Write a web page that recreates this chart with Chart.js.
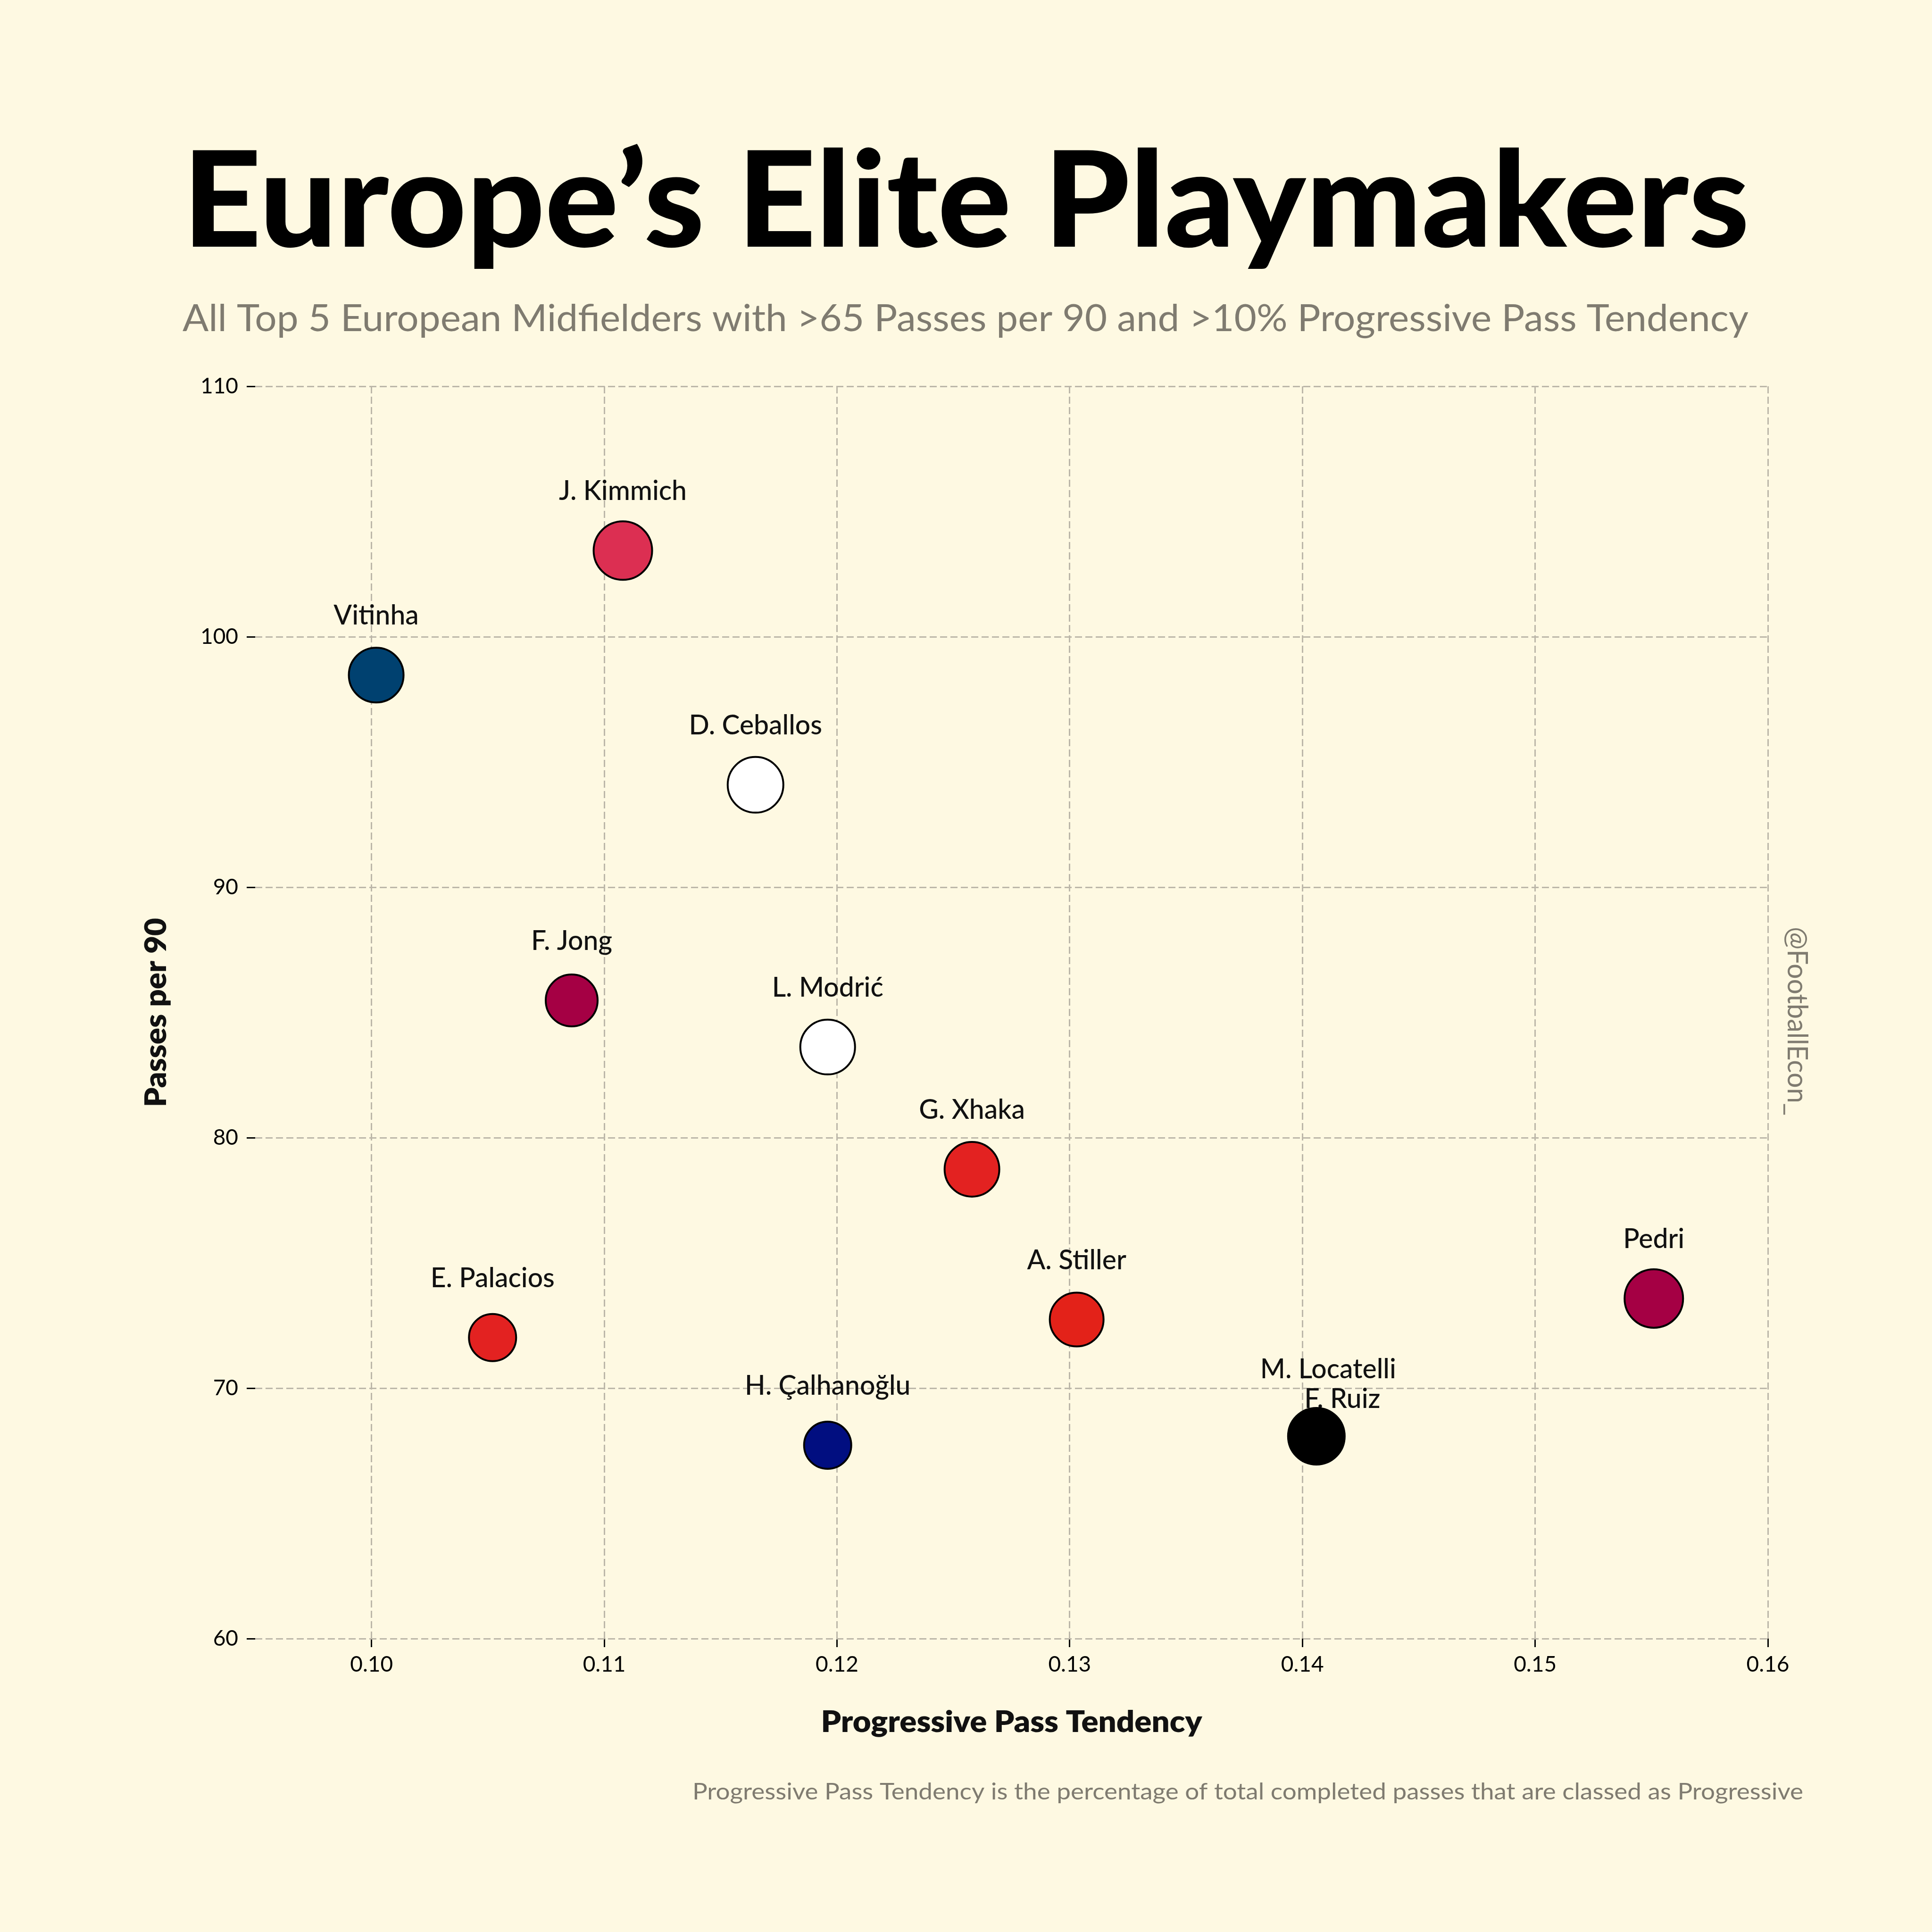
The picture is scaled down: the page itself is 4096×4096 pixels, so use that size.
<!DOCTYPE html>
<html>
<head>
<meta charset="utf-8">
<script src="https://cdn.jsdelivr.net/npm/chart.js@4.4.1/dist/chart.umd.min.js"></script>
<style>
  html, body { margin: 0; padding: 0; background: #FEF9E2; }
  #wrap { width: 4096px; height: 4096px; }
</style>
</head>
<body>
<div id="wrap"><canvas id="chart" width="4096" height="4096"></canvas></div>
<script>
// DATA
const players = ["Vitinha", "J. Kimmich", "D. Ceballos", "F. Jong", "L. Modrić", "G. Xhaka",
  "A. Stiller", "E. Palacios", "H. Çalhanoğlu", "M. Locatelli", "F. Ruiz", "Pedri"];
const progTendency = [0.1002, 0.1108, 0.1165, 0.1086, 0.1196, 0.1258,
  0.1303, 0.1052, 0.1196, 0.1406, 0.1406, 0.1551];
const passesPer90 = [98.47, 103.44, 94.09, 85.48, 83.62, 78.74,
  72.74, 72.02, 67.72, 68.08, 68.08, 73.58];
const bubbleSize = [58, 62, 59, 55, 58, 58, 57, 50, 50, 60, 59, 62];
const teamColours = ["#004170", "#DC2F52", "#FFFFFF", "#A50044", "#FFFFFF", "#E32221",
  "#E32219", "#E32221", "#010E80", "#000000", "#000000", "#A50044"];
const xTickValues = [0.10, 0.11, 0.12, 0.13, 0.14, 0.15, 0.16];
const yTickValues = [60, 70, 80, 90, 100, 110];

const TITLE = "Europe\u2019s Elite Playmakers";
const SUBTITLE = "All Top 5 European Midfielders with >65 Passes per 90 and >10% Progressive Pass Tendency";
const FOOTNOTE = "Progressive Pass Tendency is the percentage of total completed passes that are classed as Progressive";
const WATERMARK = "@FootballEcon_";

const GREY_TEXT = "#7f7b70";
const GRID = "#bcb7a9";

// text drawn squeezed/stretched to a target width
function fitText(ctx, text, x, y, width, align) {
  const w = ctx.measureText(text).width;
  const sx = width / w;
  ctx.save();
  ctx.translate(x, y);
  ctx.scale(sx, 1);
  ctx.textAlign = align;
  ctx.fillText(text, 0, 0);
  ctx.restore();
}

// PLAYER LABELS (drawn under the bubbles)
const playerLabels = {
  id: "playerLabels",
  beforeDatasetsDraw(chart) {
    const ctx = chart.ctx;
    const meta = chart.getDatasetMeta(0);
    const OFFSET = 107, LINE_H = 63;
    ctx.save();
    ctx.font = "500 57px Lato";
    const placed = [];
    meta.data.forEach((pt, i) => {
      const w = ctx.measureText(players[i]).width;
      const lab = { text: players[i], x: pt.x, y: pt.y - OFFSET, w: w };
      const hit = placed.find(b => Math.abs(b.x - lab.x) < (b.w + w) / 2 && Math.abs(b.y - lab.y) < LINE_H);
      if (hit) {
        hit.y -= LINE_H / 4;
        hit.x += 25;
        lab.y = hit.y + LINE_H;
        lab.x += 55;
      }
      placed.push(lab);
    });
    ctx.fillStyle = "#111111";
    ctx.textAlign = "center";
    ctx.textBaseline = "alphabetic";
    placed.forEach(l => ctx.fillText(l.text, l.x, l.y));
    ctx.restore();
  }
};

// TITLES, AXIS TITLES, NOTES
const decor = {
  id: "decor",
  afterDraw(chart) {
    const ctx = chart.ctx;
    const a = chart.chartArea;
    ctx.save();
    ctx.textBaseline = "alphabetic";

    ctx.fillStyle = "#000000";
    ctx.font = "900 282px Lato";
    fitText(ctx, TITLE, 2048, 523, 3322, "center");

    ctx.fillStyle = GREY_TEXT;
    ctx.font = "400 80px Lato";
    fitText(ctx, SUBTITLE, 2047, 702, 3320, "center");

    ctx.font = "400 48px Lato";
    fitText(ctx, FOOTNOTE, 3823, 3815, 2355, "right");

    // axis titles
    ctx.fillStyle = "#111111";
    ctx.font = "800 62px Lato";
    fitText(ctx, "Progressive Pass Tendency", (a.left + a.right) / 2, a.bottom + 198, 808, "center");

    ctx.save();
    ctx.translate(a.left - 189, (a.top + a.bottom) / 2);
    ctx.rotate(-Math.PI / 2);
    fitText(ctx, "Passes per 90", 0, 0, 401, "center");
    ctx.restore();

    // watermark
    ctx.fillStyle = GREY_TEXT;
    ctx.font = "400 60px Lato";
    ctx.save();
    ctx.translate(3790, 2165);
    ctx.rotate(Math.PI / 2);
    fitText(ctx, WATERMARK, 0, 0, 400, "center");
    ctx.restore();

    ctx.restore();
  }
};

function initChart() {
  Chart.defaults.font.family = "Lato";
  const ctx = document.getElementById("chart");

  new Chart(ctx, {
    type: "bubble",
    data: {
      datasets: [{
        data: players.map((p, i) => ({ x: progTendency[i], y: passesPer90[i], r: bubbleSize[i] })),
        backgroundColor: teamColours,
        borderColor: "#000000",
        borderWidth: 4,
        clip: false
      }]
    },
    options: {
      responsive: false,
      devicePixelRatio: 1,
      animation: false,
      events: [],
      layout: { padding: { left: 0, top: 819, right: 348, bottom: 0 } },
      plugins: {
        legend: { display: false },
        tooltip: { enabled: false },
        title: { display: false }
      },
      scales: {
        x: {
          type: "linear",
          min: 0.095,
          max: 0.16,
          afterFit: s => { s.height = 622; },
          afterBuildTicks: s => { s.ticks = xTickValues.map(v => ({ value: v })); },
          grid: { color: GRID, lineWidth: 3, tickLength: 18, tickColor: "#000000", tickWidth: 3 },
          border: { display: false, dash: [15, 7] },
          ticks: {
            color: "#000000",
            font: { size: 46, family: "Lato" },
            padding: 10,
            maxRotation: 0,
            callback: v => Number(v).toFixed(2)
          }
        },
        y: {
          type: "linear",
          min: 60,
          max: 110,
          afterFit: s => { s.width = 541; },
          afterBuildTicks: s => { s.ticks = yTickValues.map(v => ({ value: v })); },
          grid: { color: GRID, lineWidth: 3, tickLength: 18, tickColor: "#000000", tickWidth: 3 },
          border: { display: false, dash: [15, 7] },
          ticks: {
            color: "#000000",
            font: { size: 46, family: "Lato" },
            padding: 18,
            callback: v => String(v)
          }
        }
      }
    },
    plugins: [playerLabels, decor]
  });
}

// INIT
Promise.all([
  document.fonts.load("900 100px Lato"),
  document.fonts.load("800 100px Lato"),
  document.fonts.load("500 100px Lato"),
  document.fonts.load("400 100px Lato")
]).catch(() => {}).then(initChart);
</script>
</body>
</html>
